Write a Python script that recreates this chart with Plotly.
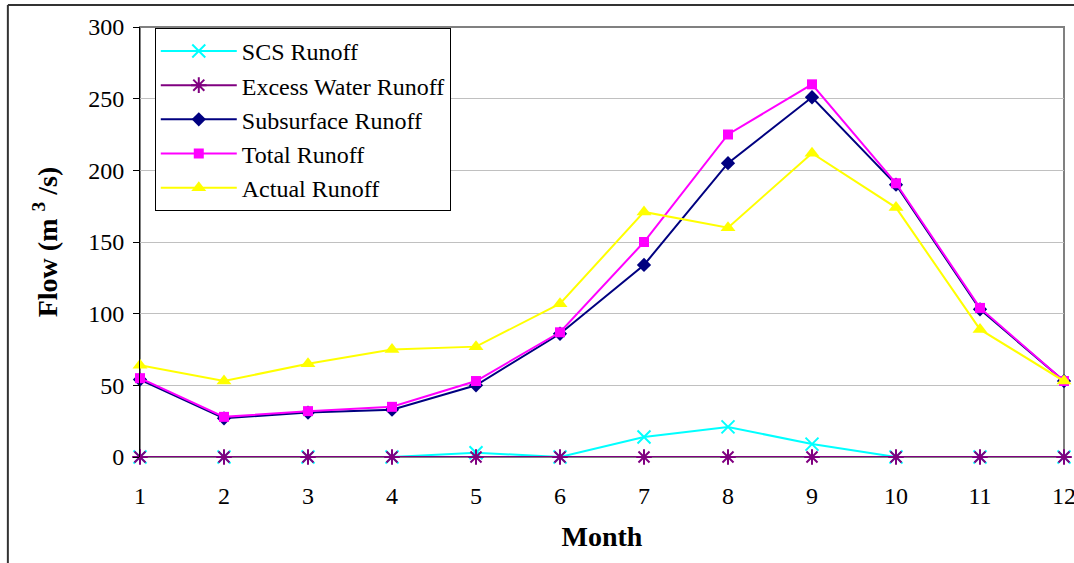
import plotly.graph_objects as go

# 月份与各径流序列 (m3/s)
months = list(range(1, 13))
scs_runoff = [0, 0, 0, 0, 3, 0, 14, 21, 9, 0, 0, 0]
excess_runoff = [0, 0, 0, 0, 0, 0, 0, 0, 0, 0, 0, 0]
subsurface_runoff = [54, 27, 31, 33, 50, 86, 134, 205, 251, 190, 103, 53]
total_runoff = [55, 28, 32, 35, 53, 87, 150, 225, 260, 191, 104, 53]
actual_runoff = [64, 53, 65, 75, 77, 107, 171, 160, 212, 174, 89, 53]

y_ticks = [0, 50, 100, 150, 200, 250, 300]

FONT = "Liberation Serif, Times New Roman, serif"

series = [
    ("SCS Runoff", scs_runoff, "#00FFFF", dict(symbol="x-thin-open", size=13,
                                               line=dict(color="#00FFFF", width=2))),
    ("Excess Water Runoff", excess_runoff, "#800080", dict(symbol="asterisk-open", size=13,
                                                          line=dict(color="#800080", width=2))),
    ("Subsurface Runoff", subsurface_runoff, "#000080", dict(symbol="diamond", size=11,
                                                            color="#000080")),
    ("Total Runoff", total_runoff, "#FF00FF", dict(symbol="square", size=10, color="#FF00FF")),
    ("Actual Runoff", actual_runoff, "#FFFF00", dict(symbol="triangle-up", size=13,
                                                    color="#FFFF00")),
]

fig = go.Figure()

for name, vals, col, mk in series:
    fig.add_trace(go.Scatter(
        x=months, y=vals, name=name, mode="lines+markers",
        line=dict(color=col, width=2), marker=mk, cliponaxis=False
    ))

# 外框 (图表区边框)
fig.add_shape(type="line", xref="paper", yref="paper",
              x0=-0.143, x1=1.2, y0=1.051, y1=1.051,
              line=dict(color="#333333", width=2))
fig.add_shape(type="line", xref="paper", yref="paper",
              x0=-0.143, x1=-0.143, y0=1.051, y1=-0.3,
              line=dict(color="#333333", width=2))
# 绘图区边框
fig.add_shape(type="rect", xref="paper", yref="paper",
              x0=0, x1=1, y0=0, y1=1, layer="below",
              line=dict(color="#808080", width=2))

fig.update_layout(
    width=1074, height=563,
    margin=dict(l=140, r=10, t=27, b=106),
    paper_bgcolor="white", plot_bgcolor="white",
    font=dict(family=FONT, size=24, color="black"),
    showlegend=True,
    legend=dict(
        x=0.016, y=0.998, xanchor="left", yanchor="top",
        bgcolor="white", bordercolor="black", borderwidth=1,
        font=dict(family=FONT, size=24), tracegroupgap=0,
        itemwidth=76
    ),
    xaxis=dict(
        range=[1, 12], tickvals=months, ticktext=[str(m) for m in months],
        showgrid=False, zeroline=False, showline=False, ticks="",
        tickfont=dict(size=24), ticklabelstandoff=22, ticklabeloverflow="allow",
        automargin=False,
        title=dict(text="<b>Month</b>", font=dict(size=28), standoff=18),
    ),
    yaxis=dict(
        range=[0, 300], tickvals=y_ticks,
        showgrid=True, gridcolor="#C0C0C0", gridwidth=1,
        zeroline=False, showline=True, linecolor="black", linewidth=1,
        ticks="outside", ticklen=6, tickcolor="black",
        tickfont=dict(size=24), ticklabelstandoff=4,
        title=dict(text="<b>Flow (m <sup>3</sup> /s)</b>", font=dict(size=28), standoff=22),
    ),
)

# 去掉页面默认边距，使图形贴齐窗口左上角
fig.write_html("out.html", config={"displayModeBar": False},
               post_script="document.body.style.margin='0';")
